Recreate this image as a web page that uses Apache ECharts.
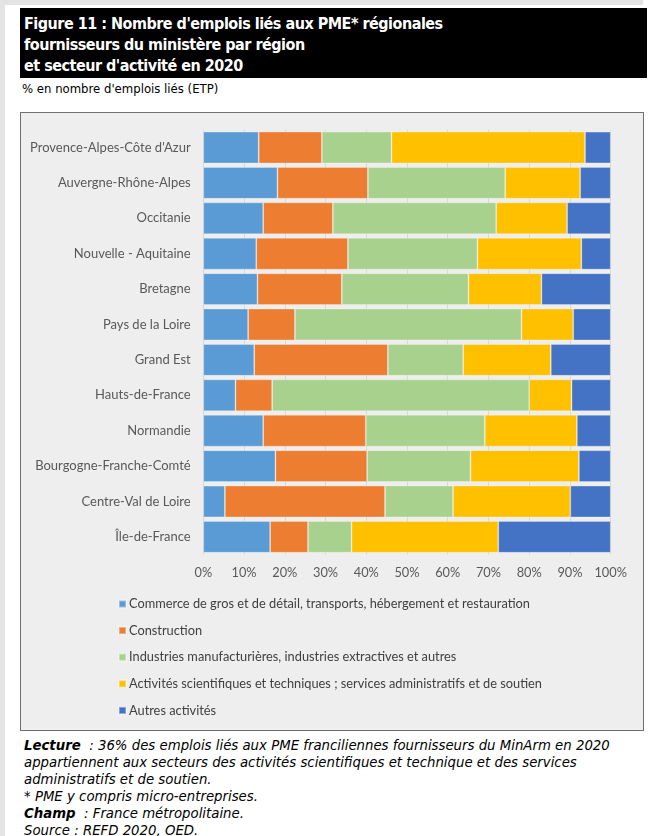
<!DOCTYPE html>
<html lang="fr">
<head>
<meta charset="utf-8">
<script src="https://cdn.jsdelivr.net/npm/echarts@6/dist/echarts.min.js"></script>
<style>
  html, body { margin: 0; padding: 0; background: #ffffff; }
  body { width: 652px; height: 836px; position: relative; overflow: hidden; }
  .edge-top { position: absolute; left: 0; top: 0; width: 643px; height: 5px; background: #e4e4e4; }
  .edge-left { position: absolute; left: 0; top: 0; width: 5px; height: 836px; background: #e4e4e4; }
  .title {
    position: absolute; left: 20px; top: 8px; width: 627px; height: 70px;
    background: #000; color: #fff; box-sizing: border-box; padding: 5px 0 0 4px;
    font-family: "DejaVu Sans Condensed", "DejaVu Sans", sans-serif; font-weight: bold;
    font-size: 16px; line-height: 21px; letter-spacing: -0.5px; white-space: nowrap;
  }
  .subtitle {
    position: absolute; left: 22px; top: 81px;
    font-family: "DejaVu Sans Condensed", "DejaVu Sans", sans-serif; font-size: 13px; color: #000;
  }
  #chart {
    position: absolute; left: 20px; top: 112px; width: 624px; height: 619px;
    box-sizing: border-box; border: 1px solid #6f6f6f; background: #eeeeee;
  }
  .notes {
    position: absolute; left: 24px; top: 737px; width: 625px; white-space: nowrap;
    font-family: "DejaVu Sans", sans-serif; font-style: italic;
    font-size: 13.3px; line-height: 17px; color: #000;
  }
  .notes b { font-weight: bold; }
</style>
</head>
<body>
<div class="edge-top"></div>
<div class="edge-left"></div>
<div class="title">Figure 11 : Nombre d'emplois liés aux PME* régionales<br>fournisseurs du ministère par région<br>et secteur d'activité en 2020</div>
<div class="subtitle">% en nombre d'emplois liés (ETP)</div>
<div id="chart"></div>
<div class="notes">
  <b>Lecture</b>&nbsp; : 36% des emplois liés aux PME franciliennes fournisseurs du MinArm en 2020<br>
  appartiennent aux secteurs des activités scientifiques et technique et des services<br>
  administratifs et de soutien.<br>
  * PME y compris micro-entreprises.<br>
  <b>Champ</b>&nbsp; : France métropolitaine.<br>
  Source : REFD 2020, OED.
</div>
<script>
// Regions, top to bottom
const regions = [
  "Provence-Alpes-Côte d'Azur",
  "Auvergne-Rhône-Alpes",
  "Occitanie",
  "Nouvelle - Aquitaine",
  "Bretagne",
  "Pays de la Loire",
  "Grand Est",
  "Hauts-de-France",
  "Normandie",
  "Bourgogne-Franche-Comté",
  "Centre-Val de Loire",
  "Île-de-France"
];

// Sector names (legend order)
const sectors = [
  "Commerce de gros et de détail, transports, hébergement et restauration",
  "Construction",
  "Industries manufacturières, industries extractives et autres",
  "Activités scientifiques et techniques ; services administratifs et de soutien",
  "Autres activités"
];

// Share of linked jobs (%) per region, one array per sector
const commerce     = [13.6, 18.2, 14.7, 13.0, 13.3, 11.0, 12.5,  7.9, 14.7, 17.7,  5.3, 16.4];
const construction = [15.5, 22.2, 17.1, 22.5, 20.7, 11.5, 32.8,  9.0, 25.2, 22.5, 39.3,  9.3];
const industrie    = [17.1, 33.7, 40.1, 31.8, 31.1, 55.6, 18.5, 63.1, 29.2, 25.4, 16.7, 10.7];
const scientifique = [47.5, 18.4, 17.4, 25.5, 17.9, 12.7, 21.5, 10.4, 22.6, 26.6, 28.8, 36.0];
const autres       = [ 6.3,  7.5, 10.7,  7.2, 17.0,  9.2, 14.7,  9.6,  8.3,  7.8,  9.9, 27.6];

// Percent tick labels
const tickLabels = ["0%", "10%", "20%", "30%", "40%", "50%", "60%", "70%", "80%", "90%", "100%"];

const colors = ["#5B9BD5", "#ED7D31", "#A9D18E", "#FFC000", "#4472C4"];
const values = [commerce, construction, industrie, scientifique, autres];

const chart = echarts.init(document.getElementById('chart'), null, { renderer: 'canvas' });

const labelFont = "Lato, 'Open Sans', sans-serif";

chart.setOption({
  animation: false,
  color: colors,
  textStyle: { fontFamily: labelFont },
  grid: { left: 182.3, top: 16.8, width: 407.4, height: 424.8, containLabel: false },
  xAxis: {
    type: 'value', min: 0, max: 100, interval: 10,
    axisLine: { show: false },
    axisTick: { show: false },
    splitLine: { show: true, lineStyle: { color: '#d9d9d9', width: 1 } },
    axisLabel: {
      color: '#595959', fontSize: 12.8, margin: 12, fontFamily: labelFont,
      formatter: v => tickLabels[Math.round(v / 10)]
    }
  },
  yAxis: {
    type: 'category', data: regions, inverse: true,
    axisLine: { show: false }, axisTick: { show: false },
    axisLabel: { color: '#595959', fontSize: 13, margin: 12.6, fontFamily: labelFont }
  },
  legend: {
    orient: 'vertical', left: 97, top: 484, padding: 0,
    icon: 'rect', itemWidth: 7, itemHeight: 7, itemGap: 12.6,
    textStyle: { color: '#404040', fontSize: 12.8, lineHeight: 14, fontFamily: labelFont, padding: [0, 0, 0, -2] },
    data: sectors
  },
  series: sectors.map((name, i) => ({
    name, type: 'bar', stack: 'total', barCategoryGap: '10.5%',
    itemStyle: { borderColor: 'rgba(255,255,255,0.35)', borderWidth: 0.8 },
    emphasis: { disabled: true },
    data: values[i]
  }))
});
</script>
</body>
</html>
